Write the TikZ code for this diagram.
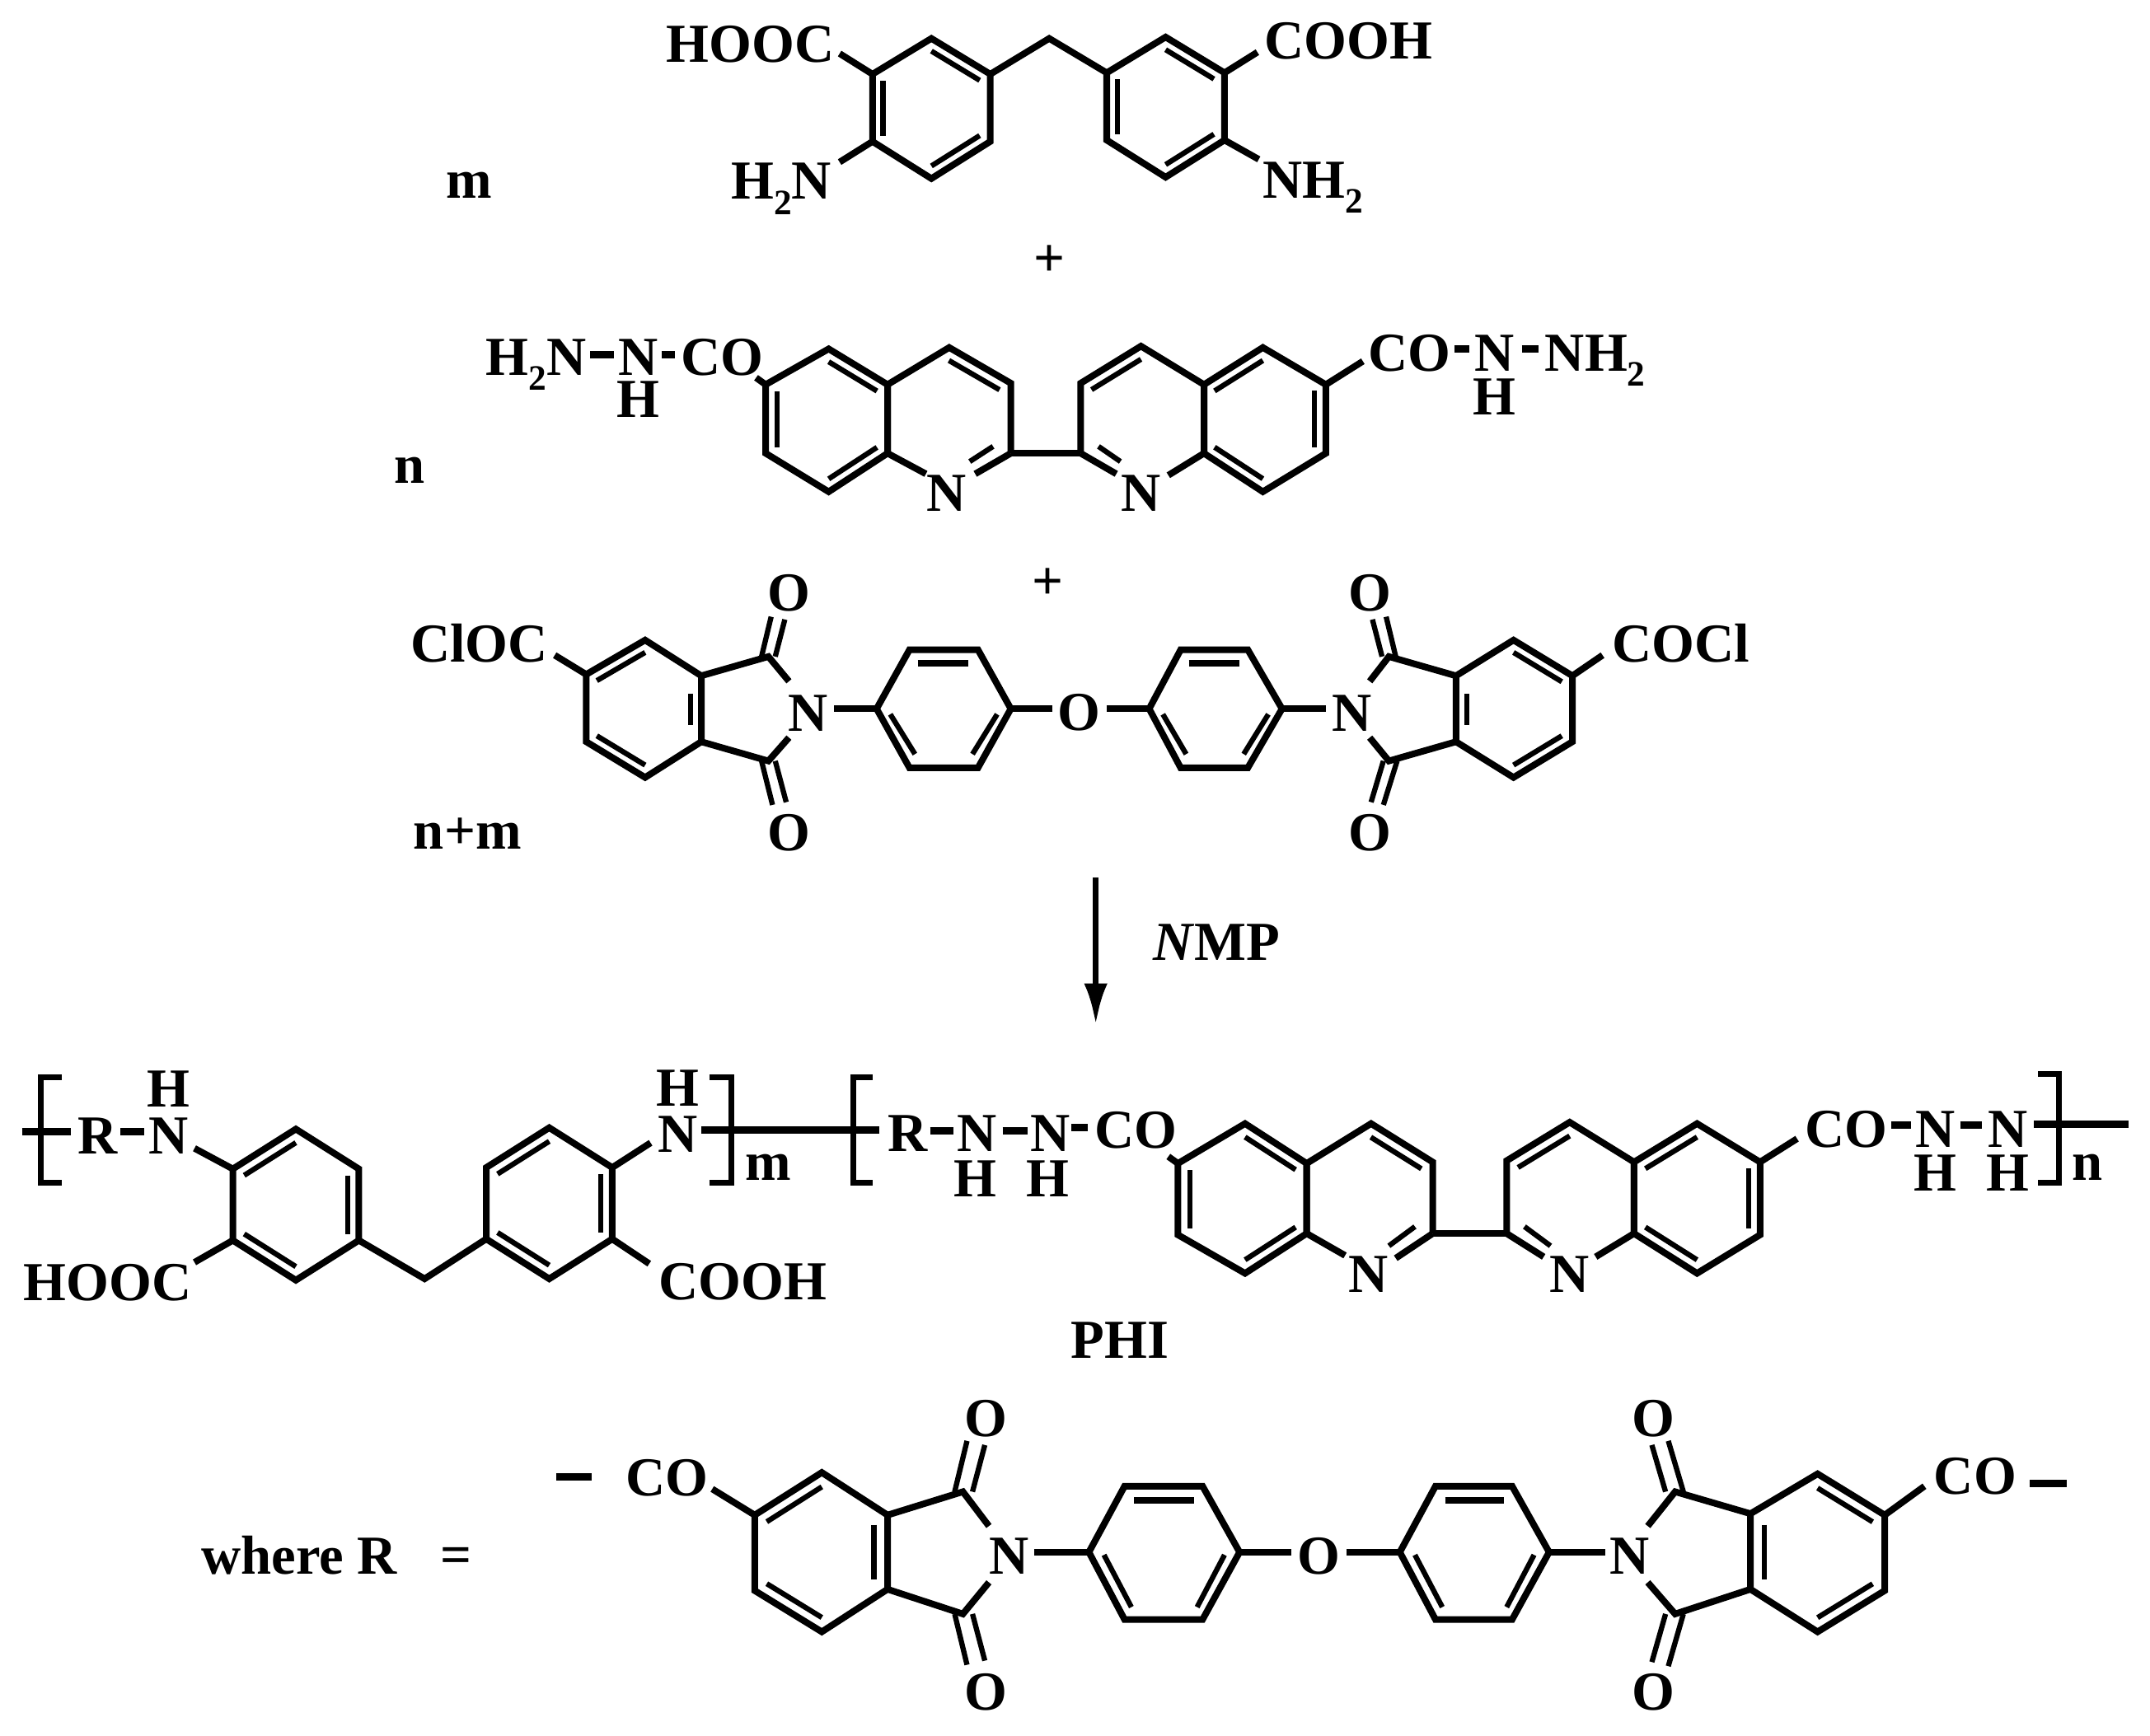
\documentclass[tikz,border=0pt]{standalone}
\usepackage{fontspec}
\setmainfont{Liberation Serif}
\usetikzlibrary{calc,arrows.meta}
\tikzset{
  bond/.style={line width=4.8pt,black,line join=miter,line cap=butt},
  innerbond/.style={line width=3.8pt,black,line cap=butt},
  dashbond/.style={line width=5.4pt,black,line cap=butt},
  lbl/.style={inner sep=0pt,outer sep=0pt,font=\fontsize{40}{44}\selectfont\bfseries,black},
  reaction/.style={line width=4.4pt,black,-{Latex[length=30pt,width=17pt]}}
}
\newcommand\subtwo{\raisebox{-0.28em}{\fontsize{26}{26}\selectfont 2}}
% ring coordinates: prefix, then six vertices
\newcommand\hexa[7]{%
  \coordinate (#11) at (#2);\coordinate (#12) at (#3);\coordinate (#13) at (#4);
  \coordinate (#14) at (#5);\coordinate (#15) at (#6);\coordinate (#16) at (#7);
  \coordinate (#1c) at ($(#11)!.5!(#14)$);}
\newcommand\rim[1]{\draw[bond] (#11)--(#12)--(#13)--(#14)--(#15)--(#16)--cycle;}
\newcommand\inr[3]{\draw[innerbond] ($(#1#2)!.18!(#1c)$)--($(#1#3)!.18!(#1c)$);}
\newcommand\lb[4]{\node[lbl,anchor=#3] (#1) at (#2) {#4};}
\newcommand\pt[2]{\coordinate (#1) at (#2);}
\newcommand\sub[3]{\pt{#3}{#2}\draw[bond] (#1)--(#3);}
\newcommand\hy[3]{\pt{#1a}{#2}\pt{#1b}{#3}\draw[dashbond] (#1a)--(#1b);}
\newcommand\dub[5]{\pt{#1a}{#2}\pt{#1b}{#3}\pt{#1c}{#4}\pt{#1d}{#5}%
  \draw[innerbond] (#1a)--(#1b);\draw[innerbond] (#1c)--(#1d);}
\newcommand\brk[5]{\pt{#1a}{#2,#3}\pt{#1b}{#4,#3}\pt{#1c}{#4,#5}\pt{#1d}{#2,#5}%
  \draw[bond,line width=4.2pt] (#1a)--(#1b)--(#1c)--(#1d);}
\begin{document}
\begin{tikzpicture}[x=0.997pt,y=-1pt]
\useasboundingbox (0,0) rectangle (1569.7,1263.3);
% ---------- monomer 1
\hexa{A}{680,28}{723,54}{723,103}{680,130}{637,103}{637,54}
\hexa{B}{851,27}{894,53}{894,102}{851,129}{808,102}{808,53}
\rim{A}\rim{B}
\inr{A}{1}{2}\inr{A}{3}{4}\inr{A}{5}{6}
\inr{B}{1}{2}\inr{B}{3}{4}\inr{B}{5}{6}
\pt{ch}{766,28}\draw[bond] (A2)--(ch)--(B6);
\sub{A6}{613,39}{a1}\sub{A5}{613,118}{a2}\sub{B2}{918,38}{a3}\sub{B3}{919,116}{a4}
\lb{hooc}{609,45}{base east}{HOOC}
\lb{cooh}{923,43}{base west}{COOH}
\lb{htn}{607,145}{base east}{H\subtwo N}
\lb{nht}{922,144}{base west}{NH\subtwo}
\lb{mm}{326,144}{base west}{m}
\lb{plusa}{766,190}{center}{+}
% ---------- monomer 2
\hexa{C}{605,254}{648,280}{648,330}{605,358}{559,330}{559,280}
\hexa{D}{693,253}{738,279}{738,330}{691,358}{648,330}{648,280}
\hexa{E}{833,252}{879,280}{879,330}{833,358}{789,330}{789,279}
\hexa{F}{922,253}{968,280}{968,330}{922,358}{879,330}{879,280}
\rim{C}\rim{F}
\draw[bond] (D5)--(D6)--(D1)--(D2)--(D3);
\draw[bond] (E3)--(E2)--(E1)--(E6)--(E5);
\inr{C}{1}{2}\inr{C}{3}{4}\inr{C}{5}{6}
\inr{D}{1}{2}\inr{E}{6}{1}
\inr{F}{6}{1}\inr{F}{2}{3}\inr{F}{4}{5}
\draw[bond] (D3)--(E5);
\sub{D5}{676,345}{b1}\sub{D3}{712,345}{b2}\sub{E5}{815,345}{b3}\sub{E3}{853,346}{b4}
\dub{cn}{725,325}{708,336}{802,325}{818,336}
\lb{na}{691,359}{center}{N}
\lb{nb}{833,359}{center}{N}
\sub{C6}{552,275}{b5}\sub{F2}{995,263}{b6}
\lb{htnb}{428,273}{base east}{H\subtwo N}
\hy{d1}{431,258}{448,258}
\lb{nc}{466,273}{base}{N}
\hy{d2}{483,258}{493,258}
\lb{coa}{497,273}{base west}{CO}
\lb{hc}{466,304}{base}{H}
\lb{cob}{999,270}{base west}{CO}
\hy{d3}{1062,254}{1073,254}
\lb{nd}{1091,270}{base}{N}
\lb{hd}{1091,302}{base}{H}
\hy{d4}{1111,254}{1123,254}
\lb{nhtb}{1128,270}{base west}{NH\subtwo}
\lb{nn}{288,352}{base west}{n}
\lb{plusb}{765,425}{center}{+}
% ---------- monomer 3
\hexa{G}{471,466}{512,492}{512,540}{471,566}{428,540}{428,491}
\hexa{I}{1105,466}{1148,492}{1148,540}{1105,566}{1063,540}{1063,492}
\rim{G}\rim{I}
\inr{G}{1}{6}\inr{G}{4}{5}\inr{I}{1}{2}\inr{I}{3}{4}
\pt{gia}{504,505}\pt{gjb}{504,528}\draw[innerbond] (gia)--(gjb);
\pt{ija}{1071,505}\pt{ijb}{1071,528}\draw[innerbond] (ija)--(ijb);
% imide left
\pt{c1}{561,478}\pt{c2}{561,554}\pt{n1}{576,496}\pt{n2}{576,537}
\draw[bond] (G2)--(c1)--(n1);\draw[bond] (G3)--(c2)--(n2);
\dub{co1}{556,478}{563,449}{566,478}{573,451}
\dub{co2}{556,554}{564,586}{566,554}{574,584}
\lb{o1}{576,432}{center}{O}\lb{o2}{576,606}{center}{O}
\lb{n3}{590,519}{center}{N}
% phenyls
\pt{p1}{664,473}\pt{p2}{714,473}\pt{p3}{738,516}\pt{p4}{714,559}\pt{p5}{664,559}\pt{p6}{640,516}
\draw[bond] (p1)--(p2)--(p3)--(p4)--(p5)--(p6)--cycle;
\pt{pa}{670,483}\pt{pb}{707,483}\draw[innerbond,line width=4.8pt] (pa)--(pb);
\pt{q1}{862,473}\pt{q2}{911,473}\pt{q3}{936,516}\pt{q4}{911,559}\pt{q5}{862,559}\pt{q6}{839,516}
\draw[bond] (q1)--(q2)--(q3)--(q4)--(q5)--(q6)--cycle;
\pt{qa}{868,483}\pt{qb}{905,483}\draw[innerbond,line width=4.8pt] (qa)--(qb);
\pt{r1}{609,516}\draw[bond] (r1)--(p6);
\pt{r2}{768,516}\draw[bond] (p3)--(r2);
\pt{r3}{808,516}\draw[bond] (r3)--(q6);
\pt{r4}{968,516}\draw[bond] (q3)--(r4);
\lb{oc}{788,519}{center}{O}
\lb{n4}{987,519}{center}{N}
\dub{pi1}{650,520}{668,549}{728,520}{710,549}
\dub{pi2}{849,520}{866,549}{926,520}{908,549}
% imide right
\pt{c3}{1014,478}\pt{c4}{1014,554}\pt{n5}{1000,496}\pt{n6}{1000,537}
\draw[bond] (I6)--(c3)--(n5);\draw[bond] (I5)--(c4)--(n6);
\dub{co3}{1019,478}{1012,449}{1009,478}{1002,451}
\dub{co4}{1020,554}{1010,586}{1010,554}{1001,584}
\lb{o3}{1000,432}{center}{O}\lb{o4}{1000,606}{center}{O}
\sub{G6}{405,477}{s1}\sub{I2}{1170,477}{s2}
\lb{cloc}{400,482}{base east}{ClOC}
\lb{cocl}{1177,482}{base west}{COCl}
\lb{nm}{302,618}{base west}{n+m}
% ---------- arrow
\pt{ar1}{800,639}\pt{ar2}{800,746}
\draw[reaction] (ar1)--(ar2);
\lb{nmp}{842,699}{base west}{\textit{N}MP}
% ---------- polymer
\hexa{J}{216,822}{262,851}{262,903}{216,932}{170,903}{170,851}
\hexa{K}{401,821}{447,850}{447,902}{401,931}{355,902}{355,850}
\rim{J}\rim{K}
\inr{J}{6}{1}\inr{J}{2}{3}\inr{J}{4}{5}
\inr{K}{6}{1}\inr{K}{2}{3}\inr{K}{4}{5}
\pt{chb}{310,931}\draw[bond] (J3)--(chb)--(K5);
\sub{J6}{142,836}{e1}\sub{K2}{475,832}{e2}\sub{J5}{142,919}{e3}\sub{K3}{474,920}{e4}
\lb{ra}{57,840}{base west}{R}
\hy{f1}{88,824}{105,824}
\lb{ne}{123,840}{base}{N}
\lb{he}{123,806}{base}{H}
\lb{nf}{495,839}{base}{N}
\lb{hf}{495,805}{base}{H}
\lb{hoocb}{140,947}{base east}{HOOC}
\lb{coohb}{481,946}{base west}{COOH}
\brk{g1}{45}{784}{30}{861}
\brk{g2}{518}{784}{534}{861}
\brk{g3}{637}{784}{623}{861}
\brk{g4}{1488}{782}{1503}{861}
\pt{h1}{16,824}\pt{h2}{52,824}\draw[bond,line width=5.2pt] (h1)--(h2);
\pt{h3}{512,822.5}\pt{h4}{642,822.5}\draw[bond,line width=5.2pt] (h3)--(h4);
\pt{h5}{1485,818.5}\pt{h6}{1554,818.5}\draw[bond,line width=5.2pt] (h5)--(h6);
\lb{mb}{544,859}{base west}{m}
\lb{rb}{648,838}{base west}{R}
\hy{f2}{679,823}{696,823}
\lb{ng}{713,838}{base}{N}
\lb{hg}{712,871}{base}{H}
\hy{f3}{732,823}{750,823}
\lb{nh}{767,838}{base}{N}
\lb{hh}{765,871}{base}{H}
\hy{f4}{782,821}{794,821}
\lb{coc}{799,836}{base west}{CO}
\hexa{L}{909,818}{954,847}{954,898}{909,927}{860,899}{860,847}
\hexa{M}{1001,818}{1046,846}{1046,898}{999,928}{954,898}{954,847}
\hexa{O}{1146,817}{1193,846}{1193,898}{1146,928}{1100,898}{1100,845}
\hexa{P}{1239,818}{1285,846}{1285,899}{1239,927}{1193,898}{1193,846}
\rim{L}\rim{P}
\draw[bond] (M5)--(M6)--(M1)--(M2)--(M3);
\draw[bond] (O3)--(O2)--(O1)--(O6)--(O5);
\inr{L}{1}{2}\inr{L}{3}{4}\inr{L}{5}{6}
\inr{M}{1}{2}\inr{O}{6}{1}
\inr{P}{6}{1}\inr{P}{2}{3}\inr{P}{4}{5}
\draw[bond] (M3)--(O5);
\sub{M5}{982,914}{t1}\sub{M3}{1019,916}{t2}\sub{O5}{1127,915}{t3}\sub{O3}{1165,915}{t4}
\dub{cnb}{1033,893}{1014,907}{1113,893}{1132,907}
\lb{ni}{999,928}{center}{N}
\lb{nj}{1146,928}{center}{N}
\sub{L6}{853,842}{t5}\sub{P2}{1312,829}{t6}
\lb{cod}{1318,835}{base west}{CO}
\hy{f5}{1381,819}{1395,819}
\lb{nk}{1413,835}{base}{N}
\lb{hk}{1413,867}{base}{H}
\hy{f6}{1431,819}{1447,819}
\lb{nl}{1466,835}{base}{N}
\lb{hl}{1466,867}{base}{H}
\lb{nb2}{1513,859}{base west}{n}
\lb{phi}{782,989}{base west}{PHI}
% ---------- R group
\lb{wr}{147,1146}{base west}{where R}
\lb{eq}{333,1136}{center}{=}
\hy{u1}{406,1075}{432,1075}
\lb{coe}{457,1089}{base west}{CO}
\hexa{Q}{600,1072}{648,1103}{648,1157}{600,1188}{551,1158}{551,1103}
\hexa{S}{1327,1073}{1376,1103}{1376,1158}{1327,1188}{1278,1157}{1278,1102}
\rim{Q}\rim{S}
\inr{Q}{1}{6}\inr{Q}{4}{5}\inr{S}{1}{2}\inr{S}{3}{4}
\pt{ia}{638,1110}\pt{ib}{638,1150}\draw[innerbond] (ia)--(ib);
\pt{ic}{1288,1110}\pt{id}{1288,1150}\draw[innerbond] (ic)--(id);
\pt{c5}{703,1086}\pt{c6}{703,1175}\pt{n7}{722,1111}\pt{n8}{722,1152}
\draw[bond] (Q2)--(c5)--(n7);\draw[bond] (Q3)--(c6)--(n8);
\dub{co5}{697,1086}{706,1049}{710,1086}{719,1052}
\dub{co6}{697,1175}{706,1212}{710,1175}{719,1209}
\lb{o5}{720,1033}{center}{O}\lb{o6}{720,1232}{center}{O}
\lb{n9}{737,1133}{center}{N}
\pt{v1}{821,1082}\pt{v2}{878,1082}\pt{v3}{905,1130}\pt{v4}{878,1179}\pt{v5}{821,1179}\pt{v6}{795,1130}
\draw[bond] (v1)--(v2)--(v3)--(v4)--(v5)--(v6)--cycle;
\pt{va}{828,1092}\pt{vb}{872,1092}\draw[innerbond,line width=4.8pt] (va)--(vb);
\pt{w1}{1048,1082}\pt{w2}{1104,1082}\pt{w3}{1131,1130}\pt{w4}{1104,1179}\pt{w5}{1048,1179}\pt{w6}{1022,1130}
\draw[bond] (w1)--(w2)--(w3)--(w4)--(w5)--(w6)--cycle;
\pt{wa}{1055,1092}\pt{wb}{1098,1092}\draw[innerbond,line width=4.8pt] (wa)--(wb);
\dub{vi}{806,1132}{826,1170}{894,1132}{874,1170}
\dub{wi}{1033,1132}{1053,1170}{1120,1132}{1100,1170}
\pt{x1}{755,1130}\draw[bond] (x1)--(v6);
\pt{x2}{943,1130}\draw[bond] (v3)--(x2);
\pt{x3}{983,1130}\draw[bond] (x3)--(w6);
\pt{x4}{1172,1130}\draw[bond] (w3)--(x4);
\lb{od}{963,1133}{center}{O}
\lb{n10}{1190,1133}{center}{N}
\pt{c7}{1223,1086}\pt{c8}{1223,1175}\pt{n11}{1203,1111}\pt{n12}{1203,1152}
\draw[bond] (S6)--(c7)--(n11);\draw[bond] (S5)--(c8)--(n12);
\dub{co7}{1229,1086}{1218,1049}{1216,1086}{1206,1052}
\dub{co8}{1229,1175}{1218,1213}{1216,1175}{1206,1210}
\lb{o7}{1207,1033}{center}{O}\lb{o8}{1207,1232}{center}{O}
\sub{Q6}{520,1084}{y1}\sub{S2}{1405,1082}{y2}
\lb{cof}{1412,1088}{base west}{CO}
\hy{u2}{1482,1080}{1509,1080}
\end{tikzpicture}
\end{document}
